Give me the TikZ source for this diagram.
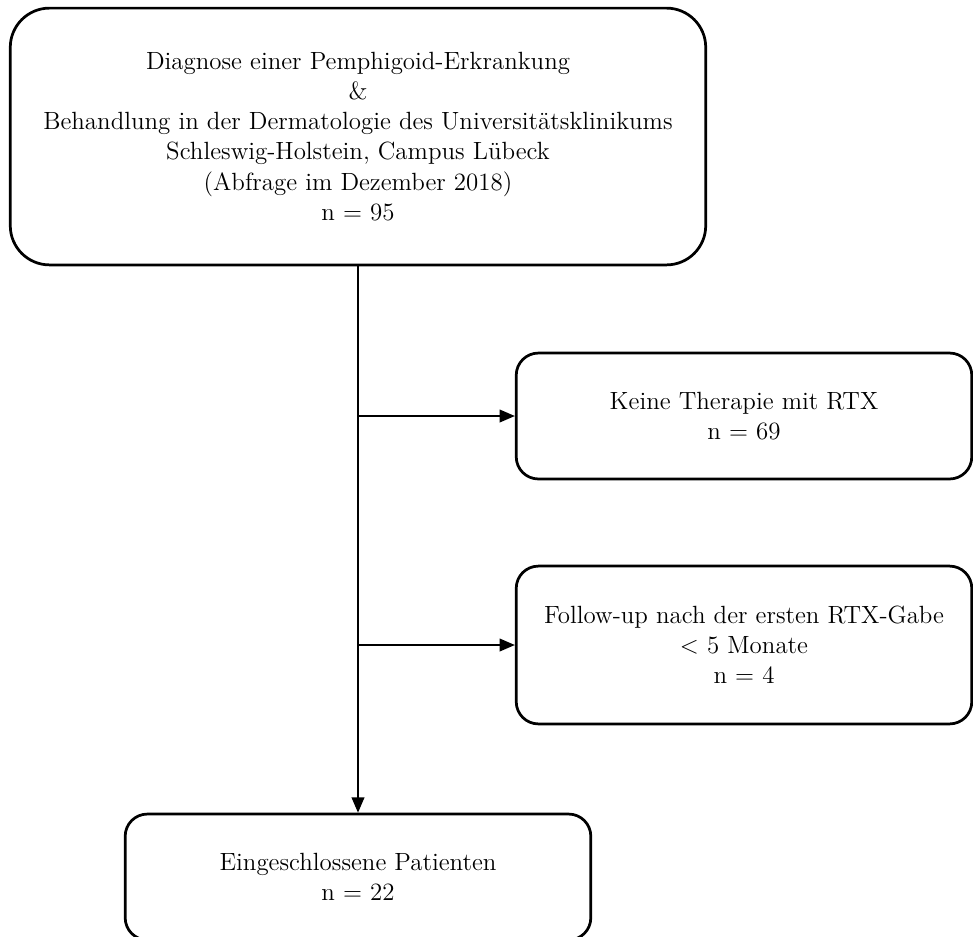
\documentclass[tikz,border=0pt]{standalone}
\usepackage{fontspec}
\usepackage{tikz}
\usetikzlibrary{arrows.meta}

\begin{document}
\begin{tikzpicture}[x=0.0206cm,y=-0.0206cm,
  box/.style={draw,line width=1.6pt,rounded corners=13pt,align=center,
    font=\fontsize{14.6}{17.7}\selectfont},
  >={Triangle[length=9pt,width=7.5pt]}, line width=0.9pt]
\useasboundingbox (0,0) rectangle (973,936);

\node[box,rounded corners=23pt,minimum width=407.6pt,minimum height=150.5pt](diag) at (358,136.5)
  {Diagnose einer Pemphigoid-Erkrankung\\\&\\Behandlung in der Dermatologie des Universitätsklinikums\\Schleswig-Holstein, Campus Lübeck\\(Abfrage im Dezember 2018)\\n = 95};
\node[box,minimum width=267pt,minimum height=73.8pt](keine) at (744,416) {Keine Therapie mit RTX\\n = 69};
\node[box,minimum width=267pt,minimum height=92.5pt](follow) at (744,645) {Follow-up nach der ersten RTX-Gabe\\< 5 Monate\\n = 4};
\node[box,minimum width=272.9pt,minimum height=73.8pt](incl) at (358,877) {Eingeschlossene Patienten\\n = 22};

\coordinate (split1) at (diag.south |- keine.west);
\coordinate (split2) at (diag.south |- follow.west);

\path (diag) edge [->] (incl);
\path (split1) edge [->] (keine);
\path (split2) edge [->] (follow);
\end{tikzpicture}
\end{document}
